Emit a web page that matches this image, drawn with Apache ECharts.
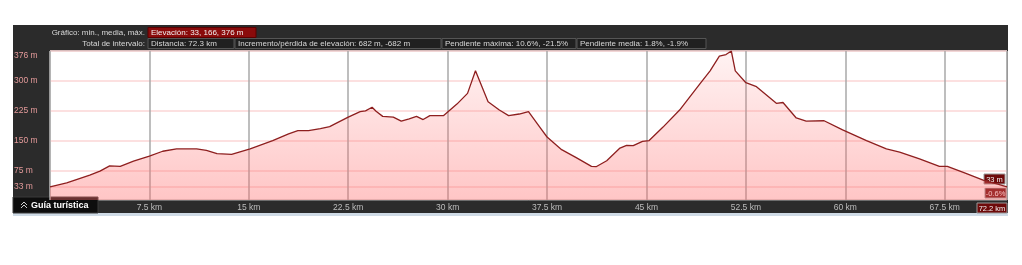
<!DOCTYPE html>
<html>
<head>
<meta charset="utf-8">
<script src="https://cdn.jsdelivr.net/npm/echarts@6/dist/echarts.min.js"></script>
<style>
html,body{margin:0;padding:0;background:#fff;}
#c{width:1022px;height:265px;}
</style>
</head>
<body>
<div id="c"></div>
<script>
// distance along route (km)
const distKm = [0,1.26,3.0,3.77,4.5,5.3,6.3,7.5,8.5,9.55,11.06,11.8,12.6,13.7,15.1,16.8,18.0,18.7,19.5,20.4,21.1,21.5,22.5,23.4,23.8,24.3,24.6,25.1,25.9,26.5,27.1,27.65,28.15,28.66,29.7,30.7,31.5,32.1,33.05,33.9,34.6,35.4,36.1,36.95,37.5,38.6,39.7,40.85,41.2,42.0,43.0,43.5,44.0,44.7,45.2,46.25,47.5,49.0,49.8,50.5,51.0,51.4,51.5,51.7,52.5,53.3,54.8,55.3,56.3,57.05,58.4,59.8,61.6,63.1,64.1,65.6,67.1,67.7,69.1,70.4,71.5,72.2];
// elevation (m)
const elevM = [33,43,63,73,86,85,98,111,123,129,129,125,117,115,129,150,167,175,175,180,185,192,209,223,225,234,224,211,209,199,205,211,203,213,213,242,269,326,248,227,213,217,223,184,159,127,107,85,84,99,131,138,137,148,150,184,227,292,326,363,367,376,372,326,296,286,244,246,207,199,200,177,150,129,121,104,85,85,67,50,40,33];
const xTickLabels = ['7.5 km','15 km','22.5 km','30 km','37.5 km','45 km','52.5 km','60 km','67.5 km'];
const yTickValues = [33,75,150,225,300,376];
const headerRow1 = ['Gráfico: min., media, máx.', 'Elevación: 33, 166, 376 m'];
const headerRow2 = ['Total de intervalo:', 'Distancia: 72.3 km', 'Incremento/pérdida de elevación: 682 m, -682 m', 'Pendiente máxima: 10.6%, -21.5%', 'Pendiente media: 1.8%, -1.9%'];
const endLabels = ['33 m', '-0.6%', '72.2 km'];
const buttonLabel = 'Guía turística';

const FONT = '"Liberation Sans", Arial, sans-serif';
const chart = echarts.init(document.getElementById('c'), null, {renderer: 'canvas'});

function box(x, y, w, h, fill, stroke, text, color, size, center) {
  return {
    type: 'group', z: 200,
    children: [
      {type: 'rect', shape: {x: x, y: y, width: w, height: h}, style: {fill: fill, stroke: stroke, lineWidth: 1}},
      {type: 'text', x: center ? x + w / 2 : x + 3, y: y + h / 2 + 0.5, style: {text: text, fill: color, font: size + 'px ' + FONT, verticalAlign: 'middle', align: center ? 'center' : 'left'}}
    ]
  };
}

const data = distKm.map((d, i) => [d, elevM[i]]);

const option = {
  backgroundColor: '#ffffff',
  animation: false,
  grid: {left: 50, right: 15, top: 51, bottom: 65, show: true, backgroundColor: '#ffffff', borderWidth: 1, borderColor: '#b0b0b0'},
  xAxis: {
    type: 'value', min: 0, max: 72.2, interval: 7.5,
    axisLine: {show: false}, axisTick: {show: false},
    splitLine: {show: true, lineStyle: {color: '#a8a8a8', width: 1.5}},
    axisLabel: {
      color: '#bdbdbd', fontSize: 8.5, fontFamily: FONT, margin: 3,
      showMinLabel: false, showMaxLabel: false,
      formatter: function (v) { const i = Math.round(v / 7.5) - 1; return xTickLabels[i] || ''; }
    }
  },
  yAxis: {
    type: 'value', min: 0, max: 376,
    axisLine: {show: false},
    axisTick: {show: false, customValues: yTickValues},
    splitLine: {show: true, lineStyle: {color: '#fbd6d6', width: 1.5}},
    axisLabel: {
      customValues: yTickValues,
      color: '#e39a9a', fontSize: 8.5, fontFamily: FONT, margin: 36, align: 'left',
      formatter: function (v) { return v === 376 ? '{t|' + v + ' m}' : v + ' m'; },
      rich: {t: {color: '#e39a9a', fontSize: 8.5, fontFamily: FONT, padding: [9, 0, 0, 0]}}
    }
  },
  series: [{
    type: 'line', data: data, symbol: 'none', smooth: false, z: 3,
    lineStyle: {color: '#8e1f1f', width: 1.3},
    areaStyle: {
      color: {type: 'linear', x: 0, y: 0, x2: 0, y2: 1, colorStops: [
        {offset: 0, color: 'rgba(255,110,110,0.12)'},
        {offset: 1, color: 'rgba(255,105,105,0.55)'}
      ]}
    }
  }],
  graphic: [
    {type: 'rect', z: -10, shape: {x: 13, y: 25, width: 995, height: 188}, style: {fill: '#2b2b2b'}},
    {type: 'rect', z: -10, shape: {x: 13, y: 213, width: 995, height: 3}, style: {fill: '#cfdbe6'}},
    {type: 'text', z: 200, x: 145, y: 33, style: {text: headerRow1[0], fill: '#d8d8d8', font: '8px ' + FONT, align: 'right', verticalAlign: 'middle'}},
    box(148, 27.5, 108, 10, '#8a0b0b', '#5a0000', headerRow1[1], '#f2f2f2', 8, false),
    {type: 'text', z: 200, x: 145, y: 44, style: {text: headerRow2[0], fill: '#d8d8d8', font: '8px ' + FONT, align: 'right', verticalAlign: 'middle'}},
    box(148, 38.5, 86, 10, '#202020', '#555555', headerRow2[1], '#d8d8d8', 8, false),
    box(235, 38.5, 206, 10, '#202020', '#555555', headerRow2[2], '#d8d8d8', 8, false),
    box(442, 38.5, 134, 10, '#202020', '#555555', headerRow2[3], '#d8d8d8', 8, false),
    box(577, 38.5, 129, 10, '#202020', '#555555', headerRow2[4], '#d8d8d8', 8, false),
    box(984, 174, 21, 10, '#6e0a0a', '#9a9a9a', endLabels[0], '#f0f0f0', 7.5, true),
    box(985, 188, 21, 10, '#6e0a0a', '#9a9a9a', endLabels[1], '#f0f0f0', 7.5, true),
    box(977, 203, 30, 10, '#6e0a0a', '#9a9a9a', endLabels[2], '#f0f0f0', 7.5, true),
    {type: 'group', z: 200, children: [
      {type: 'rect', shape: {x: 13, y: 197, width: 85, height: 16}, style: {fill: '#0d0d0d', stroke: '#3a3a3a', lineWidth: 1}},
      {type: 'polyline', shape: {points: [[21, 205], [24, 202], [27, 205]]}, style: {stroke: '#cfcfcf', lineWidth: 1, fill: null}},
      {type: 'polyline', shape: {points: [[21, 208], [24, 205], [27, 208]]}, style: {stroke: '#cfcfcf', lineWidth: 1, fill: null}},
      {type: 'text', x: 31, y: 205.5, style: {text: buttonLabel, fill: '#ffffff', font: 'bold 9px ' + FONT, verticalAlign: 'middle', align: 'left'}}
    ]}
  ]
};
chart.setOption(option);
</script>
</body>
</html>
